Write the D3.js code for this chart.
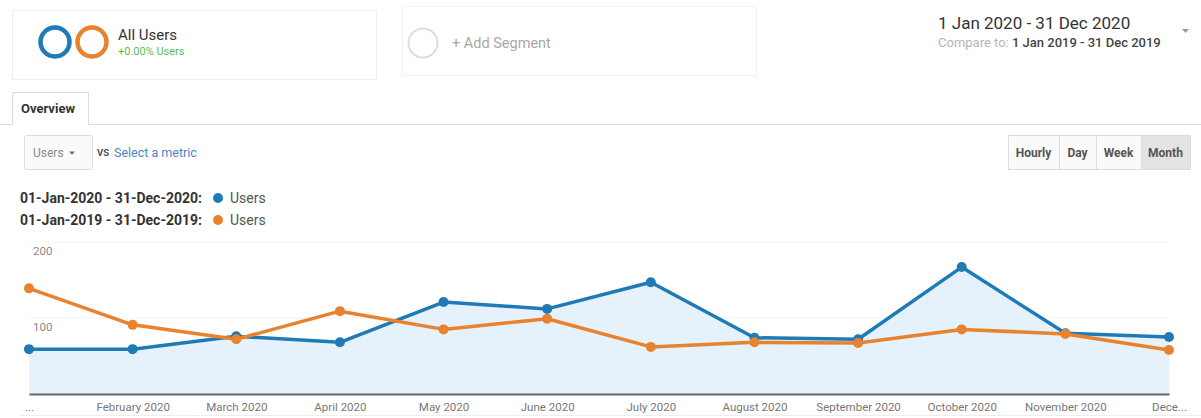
<!DOCTYPE html>
<html>
<head>
<meta charset="utf-8">
<script src="https://cdn.jsdelivr.net/npm/d3@7"></script>
<style>
  html, body { margin: 0; padding: 0; background: #fff; }
  svg { display: block; font-family: Roboto, "Liberation Sans", Arial, sans-serif; }
</style>
</head>
<body>
<svg id="chart" width="1201" height="418"></svg>
<script>
// Monthly users, current year vs. previous year
const months = ["January 2020", "February 2020", "March 2020", "April 2020", "May 2020", "June 2020",
                "July 2020", "August 2020", "September 2020", "October 2020", "November 2020", "December 2020"];
const tickLabels = ["...", "February 2020", "March 2020", "April 2020", "May 2020", "June 2020",
                    "July 2020", "August 2020", "September 2020", "October 2020", "November 2020", "Dece..."];
const users2020 = [59, 59, 76, 68, 121, 112, 147, 74, 72, 167, 80, 75];
const users2019 = [139, 91, 72, 109, 85, 99, 62, 68, 67, 85, 79, 58];
const yTicks = [100, 200];
const granularity = ["Hourly", "Day", "Week", "Month"];
const legendRows = [
  { range: "01-Jan-2020 - 31-Dec-2020:", metric: "Users", color: "#1f7ab6" },
  { range: "01-Jan-2019 - 31-Dec-2019:", metric: "Users", color: "#e8822e" }
];

const BLUE = "#1f7ab6", ORANGE = "#e8822e";
const svg = d3.select("#chart");

// ---- segment header ----
const seg1 = svg.append("g");
seg1.append("rect").attr("x", 12.5).attr("y", 10.5).attr("width", 364).attr("height", 69)
  .attr("fill", "#fff").attr("stroke", "#eeeeee");
seg1.append("circle").attr("cx", 55).attr("cy", 42).attr("r", 14.5)
  .attr("fill", "none").attr("stroke", BLUE).attr("stroke-width", 4.5);
seg1.append("circle").attr("cx", 92).attr("cy", 42).attr("r", 14.5)
  .attr("fill", "none").attr("stroke", ORANGE).attr("stroke-width", 4.5);
seg1.append("text").attr("x", 118).attr("y", 40).attr("font-size", 15).attr("fill", "#333").text("All Users");
seg1.append("text").attr("x", 118).attr("y", 55).attr("font-size", 11).attr("fill", "#5cb85c").text("+0.00% Users");

const seg2 = svg.append("g");
seg2.append("rect").attr("x", 402.5).attr("y", 6.5).attr("width", 354).attr("height", 69)
  .attr("fill", "#fff").attr("stroke", "#f1f1f1");
seg2.append("circle").attr("cx", 423).attr("cy", 43).attr("r", 14.5)
  .attr("fill", "none").attr("stroke", "#dddddd").attr("stroke-width", 2);
seg2.append("text").attr("x", 452).attr("y", 48).attr("font-size", 14.5).attr("fill", "#a8a8a8").text("+ Add Segment");

// ---- date range ----
svg.append("text").attr("x", 938).attr("y", 29).attr("font-size", 17).attr("fill", "#333")
  .text("1 Jan 2020 - 31 Dec 2020");
const cmp = svg.append("text").attr("x", 938).attr("y", 47).attr("font-size", 13);
cmp.append("tspan").attr("fill", "#b5b5b5").text("Compare to: ");
cmp.append("tspan").attr("fill", "#444").attr("font-weight", 500).text("1 Jan 2019 - 31 Dec 2019");
svg.append("path").attr("d", "M1182,29 L1189,29 L1185.5,33 Z").attr("fill", "#999");

// ---- tab ----
svg.append("path").attr("d", "M0,124.5 H12.5 V92.5 H88.5 V124.5 H1201")
  .attr("fill", "none").attr("stroke", "#dddddd");
svg.append("text").attr("x", 21).attr("y", 113).attr("font-size", 13).attr("font-weight", "bold")
  .attr("fill", "#333").text("Overview");

// ---- metric selector ----
svg.append("rect").attr("x", 24.5).attr("y", 135.5).attr("width", 68).attr("height", 34).attr("rx", 2)
  .attr("fill", "#fafafa").attr("stroke", "#dddddd");
svg.append("text").attr("x", 33).attr("y", 157).attr("font-size", 12).attr("fill", "#8a8a8a").text("Users");
svg.append("path").attr("d", "M69,151.5 L75,151.5 L72,155 Z").attr("fill", "#777");
svg.append("text").attr("x", 97).attr("y", 156).attr("font-size", 9.5).attr("font-weight", "bold")
  .attr("fill", "#555").text("VS");
svg.append("text").attr("x", 114).attr("y", 157).attr("font-size", 12.5).attr("fill", "#4a86c5").text("Select a metric");

// ---- granularity buttons ----
const btnEdges = [1008, 1059, 1096, 1141, 1190];
const btns = svg.append("g");
granularity.forEach((label, i) => {
  const x0 = btnEdges[i], x1 = btnEdges[i + 1];
  btns.append("rect").attr("x", x0 + 0.5).attr("y", 135.5).attr("width", x1 - x0).attr("height", 34)
    .attr("fill", label === "Month" ? "#e3e3e3" : "#fafafa").attr("stroke", "#dddddd");
  btns.append("text").attr("x", (x0 + x1) / 2).attr("y", 157).attr("text-anchor", "middle")
    .attr("font-size", 12).attr("font-weight", "bold").attr("fill", "#555").text(label);
});

// ---- legend ----
legendRows.forEach((row, i) => {
  const cy = 198 + i * 22;
  svg.append("text").attr("x", 20).attr("y", cy + 5).attr("font-size", 14).attr("font-weight", "bold")
    .attr("fill", "#333").text(row.range);
  svg.append("circle").attr("cx", 218).attr("cy", cy).attr("r", 5).attr("fill", row.color);
  svg.append("text").attr("x", 230).attr("y", cy + 5).attr("font-size", 14).attr("fill", "#555").text(row.metric);
});

// ---- chart ----
const x = d3.scalePoint().domain(months).range([29, 1169]);
const y = d3.scaleLinear().domain([0, 200]).range([394, 242]);

const plot = svg.append("g");

// faint gridlines with labels sitting just below them
yTicks.forEach(t => {
  plot.append("line").attr("x1", 29).attr("x2", 1169).attr("y1", y(t)).attr("y2", y(t))
    .attr("stroke", "#f3f3f3");
  plot.append("text").attr("x", 33).attr("y", y(t) + 13).attr("font-size", 11.5).attr("fill", "#888").text(t);
});

const area = d3.area().x((d, i) => x(months[i])).y0(y(0)).y1(d => y(d));
plot.append("path").datum(users2020).attr("d", area).attr("fill", "#e6f2fb");

// x axis: baseline and month labels
const xAxis = d3.axisBottom(x).tickSize(0).tickPadding(9).tickFormat((d, i) => tickLabels[i]);
const gx = plot.append("g").attr("transform", `translate(0,${y(0)})`).call(xAxis);
gx.select(".domain").attr("stroke", "#5f6870").attr("stroke-width", 2);
gx.selectAll("text").attr("font-size", 11.5).attr("fill", "#777")
  .attr("font-family", 'Roboto, "Liberation Sans", Arial, sans-serif');
plot.append("line").attr("x1", 20).attr("x2", 1201).attr("y1", 415.5).attr("y2", 415.5).attr("stroke", "#eeeeee");

const line = d3.line().x((d, i) => x(months[i])).y(d => y(d));

function drawSeries(values, color) {
  plot.append("path").datum(values).attr("d", line)
    .attr("fill", "none").attr("stroke", color).attr("stroke-width", 3.5).attr("stroke-linejoin", "round");
  plot.selectAll(null).data(values).enter().append("circle")
    .attr("cx", (d, i) => x(months[i])).attr("cy", d => y(d)).attr("r", 5).attr("fill", color);
}
drawSeries(users2020, BLUE);
drawSeries(users2019, ORANGE);
</script>
</body>
</html>
